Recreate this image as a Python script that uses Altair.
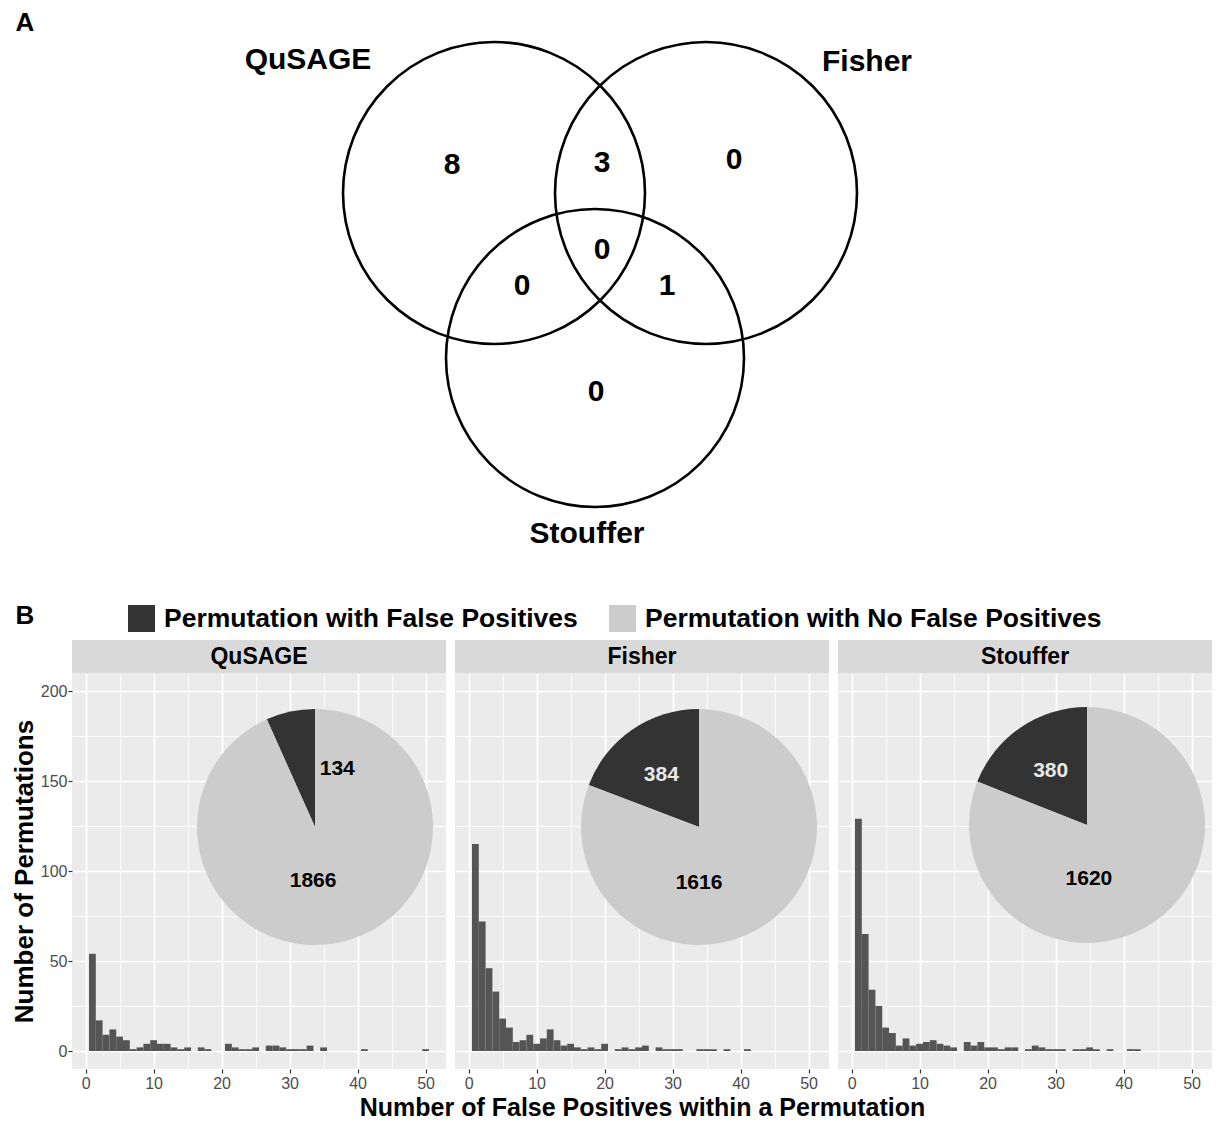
import math
import altair as alt
import pandas as pd

# ---------------- data ----------------
methods = ["QuSAGE", "Fisher", "Stouffer"]
fp_values = list(range(1, 51))
qusage_counts = [54, 17, 9, 12, 8, 6, 1, 2, 4, 6,
                 4, 4, 2, 1, 2, 0, 2, 1, 0, 0,
                 4, 2, 1, 1, 2, 0, 3, 3, 2, 1,
                 1, 1, 3, 0, 2, 0, 0, 0, 0, 0,
                 1, 0, 0, 0, 0, 0, 0, 0, 0, 1]
fisher_counts = [115, 72, 46, 33, 18, 13, 5, 6, 9, 4,
                 7, 12, 6, 3, 4, 2, 1, 2, 1, 4,
                 0, 1, 2, 1, 2, 3, 0, 2, 1, 1,
                 1, 0, 0, 1, 1, 1, 0, 1, 0, 0,
                 1, 0, 0, 0, 0, 0, 0, 0, 0, 0]
stouffer_counts = [129, 65, 34, 25, 13, 10, 3, 7, 3, 4,
                   5, 6, 4, 3, 2, 0, 5, 3, 5, 2,
                   2, 1, 2, 2, 0, 1, 3, 2, 1, 1,
                   1, 0, 1, 1, 2, 1, 0, 1, 0, 0,
                   1, 1, 0, 0, 0, 0, 0, 0, 0, 0]
perm_with_fp = [134, 384, 380]
perm_without_fp = [1866, 1616, 1620]
pie_categories = ["Permutation with False Positives", "Permutation with No False Positives"]

venn_sets = ["QuSAGE", "Fisher", "Stouffer"]
venn_regions = ["QuSAGE only", "QuSAGE & Fisher", "Fisher only", "All three",
                "QuSAGE & Stouffer", "Fisher & Stouffer", "Stouffer only"]
venn_counts = [8, 3, 0, 0, 0, 1, 0]

x_title = "Number of False Positives within a Permutation"
y_title = "Number of Permutations"

# ---------------- layout / style ----------------
FONT = "Liberation Sans"
PANEL_W, PANEL_H, PANEL_GAP, STRIP_H = 374, 396, 9, 33
X_DOMAIN, Y_DOMAIN = [-2, 53], [-10, 210]
BAR = "#555555"
DARK, LIGHT = "#333333", "#cccccc"
PANEL_BG, STRIP_BG = "#ebebeb", "#d9d9d9"
VENN_W, VENN_H = 1134, 593
OX, OY = 72, 10  # page position of the venn view origin
PAD_LEFT, PAD_TOP = 3, 2

circle_geom = {"QuSAGE": (494, 193, 151), "Fisher": (706, 193, 151), "Stouffer": (595, 358, 149)}
set_label_pos = {"QuSAGE": (308, 60), "Fisher": (867, 62), "Stouffer": (587, 534)}
region_pos = {"QuSAGE only": (452, 165), "QuSAGE & Fisher": (602, 163), "Fisher only": (734, 160),
              "All three": (602, 250), "QuSAGE & Stouffer": (522, 286),
              "Fisher & Stouffer": (667, 286), "Stouffer only": (596, 392)}

pie_center = [(243, 154), (244, 154), (249, 152)]
PIE_R = 118
label_angle = [(21, 182), (324, 180), (326, 178)]   # degrees (with FP, without FP)
label_radius = [(62, 54), (64, 56), (65, 54)]
label_color = [("black", "black"), ("#e8e8e8", "black"), ("#e8e8e8", "black")]

# ---------------- panel A: Venn ----------------
circ_df = pd.DataFrame({
    "set": venn_sets,
    "px": [circle_geom[s][0] - OX for s in venn_sets],
    "py": [circle_geom[s][1] - OY for s in venn_sets],
    "box": [(2 * circle_geom[s][2]) ** 2 for s in venn_sets],
})
setlab_df = pd.DataFrame({
    "set": venn_sets,
    "px": [set_label_pos[s][0] - OX for s in venn_sets],
    "py": [set_label_pos[s][1] - OY for s in venn_sets],
})
region_df = pd.DataFrame({
    "region": venn_regions,
    "count": venn_counts,
    "px": [region_pos[r][0] - OX for r in venn_regions],
    "py": [region_pos[r][1] - OY for r in venn_regions],
})

circles = alt.Chart(circ_df).mark_point(shape="circle", filled=False, color="black",
                                        strokeWidth=2.6, opacity=1).encode(
    x=alt.X("px:Q", scale=None, axis=None),
    y=alt.Y("py:Q", scale=None, axis=None),
    size=alt.Size("box:Q", scale=None),
)
set_labels = alt.Chart(setlab_df).mark_text(fontSize=30, fontWeight="bold", font=FONT,
                                            color="black", baseline="middle").encode(
    x=alt.X("px:Q", scale=None), y=alt.Y("py:Q", scale=None), text="set:N")
region_labels = alt.Chart(region_df).mark_text(fontSize=30, fontWeight="bold", font=FONT,
                                               color="black", baseline="middle").encode(
    x=alt.X("px:Q", scale=None), y=alt.Y("py:Q", scale=None), text="count:Q")
tag_a = alt.Chart(pd.DataFrame({"t": ["A"]})).mark_text(
    fontSize=26, fontWeight="bold", font=FONT, color="black", baseline="middle").encode(
    text="t:N", x=alt.value(25 - OX), y=alt.value(23 - OY))

venn = alt.layer(circles, set_labels, region_labels, tag_a).properties(width=VENN_W, height=VENN_H)

# ---------------- panel B: histograms with pies ----------------
major10 = "datum.value % 10 === 0"
major50 = "datum.value % 50 === 0"
all_counts = [qusage_counts, fisher_counts, stouffer_counts]


def make_panel(i):
    name = methods[i]
    hist = pd.DataFrame({"fp": fp_values, "count": all_counts[i]})
    hist = hist[hist["count"] > 0].copy()
    hist["lo"] = hist["fp"] - 0.5
    hist["hi"] = hist["fp"] + 0.5

    x_axis = alt.Axis(
        values=list(range(0, 51, 5)), labelExpr=f"{major10} ? datum.label : ''",
        grid=True, gridColor="white",
        gridWidth={"condition": {"test": major10, "value": 1.7}, "value": 0.8},
        tickOpacity={"condition": {"test": major10, "value": 1}, "value": 0},
        tickColor="#333333", tickSize=4, tickWidth=1.2, domain=False,
        labelFont=FONT, labelFontSize=16, labelColor="#4d4d4d", labelPadding=2,
        title=x_title if i == 1 else None,
        titleFont=FONT, titleFontSize=25, titleFontWeight="bold", titleColor="black",
        titlePadding=4,
    )
    if i == 0:
        y_axis = alt.Axis(
            values=list(range(0, 201, 25)), labelExpr=f"{major50} ? datum.label : ''",
            grid=True, gridColor="white",
            gridWidth={"condition": {"test": major50, "value": 1.7}, "value": 0.8},
            tickOpacity={"condition": {"test": major50, "value": 1}, "value": 0},
            tickColor="#333333", tickSize=4, tickWidth=1.2, domain=False,
            labelFont=FONT, labelFontSize=16, labelColor="#4d4d4d", labelPadding=1,
            title=y_title, titleFont=FONT, titleFontSize=26, titleFontWeight="bold",
            titleColor="black", titlePadding=3,
        )
    else:
        y_axis = alt.Axis(
            values=list(range(0, 201, 25)), labels=False, ticks=False, domain=False,
            grid=True, gridColor="white",
            gridWidth={"condition": {"test": major50, "value": 1.7}, "value": 0.8},
            title=None,
        )

    bars = alt.Chart(hist).mark_rect(color=BAR).encode(
        x=alt.X("lo:Q", scale=alt.Scale(domain=X_DOMAIN, nice=False, zero=False), axis=x_axis),
        x2="hi:Q",
        y=alt.Y("count:Q", scale=alt.Scale(domain=Y_DOMAIN, nice=False, zero=False), axis=y_axis),
        y2=alt.datum(0),
    )

    cx, cy = pie_center[i]
    pie_df = pd.DataFrame({"status": pie_categories,
                           "n": [perm_with_fp[i], perm_without_fp[i]],
                           "ord": [1, 0]})
    if i == 0:
        legend = alt.Legend(title=None, orient="none", legendX=56, legendY=-68,
                            direction="horizontal", symbolType="square", symbolSize=729,
                            symbolStrokeWidth=0, labelFont=FONT, labelFontSize=26.5,
                            labelFontWeight="bold", labelColor="black", labelLimit=700,
                            columnPadding=31, labelOffset=9)
    else:
        legend = None
    pie = alt.Chart(pie_df).mark_arc(outerRadius=PIE_R).encode(
        theta=alt.Theta("n:Q", stack=True),
        order=alt.Order("ord:Q"),
        color=alt.Color("status:N", scale=alt.Scale(domain=pie_categories, range=[DARK, LIGHT]),
                        legend=legend),
        x=alt.value(cx), y=alt.value(cy),
    )

    lab_df = pd.DataFrame({
        "txt": [str(perm_with_fp[i]), str(perm_without_fp[i])],
        "ang": list(label_angle[i]),
        "r": list(label_radius[i]),
        "col": list(label_color[i]),
    })
    pie_labels = alt.Chart(lab_df).mark_text(fontSize=21, fontWeight="bold", font=FONT,
                                             baseline="middle").encode(
        theta=alt.Theta("ang:Q", scale=alt.Scale(domain=[0, 360], range=[0, 2 * math.pi])),
        radius=alt.Radius("r:Q", scale=None),
        text="txt:N",
        color=alt.Color("col:N", scale=None),
        x=alt.value(cx), y=alt.value(cy),
    )

    strip_df = pd.DataFrame({"method": [name]})
    strip = alt.Chart(strip_df).mark_rect(color=STRIP_BG).encode(
        x=alt.value(0), x2=alt.value(PANEL_W), y=alt.value(-STRIP_H), y2=alt.value(0))
    strip_txt = alt.Chart(strip_df).mark_text(fontSize=23, fontWeight="bold", font=FONT,
                                              color="black", baseline="middle").encode(
        text="method:N", x=alt.value(PANEL_W / 2), y=alt.value(-STRIP_H / 2))

    layers = [bars, pie, pie_labels, strip, strip_txt]
    if i == 0:
        tag_b = alt.Chart(pd.DataFrame({"t": ["B"]})).mark_text(
            fontSize=26, fontWeight="bold", font=FONT, color="black", baseline="middle").encode(
            text="t:N", x=alt.value(25 - OX), y=alt.value(617 - 674))
        layers.append(tag_b)

    return alt.layer(*layers).resolve_scale(theta="independent", color="independent").properties(
        width=PANEL_W, height=PANEL_H,
        view=alt.ViewBackground(fill=PANEL_BG, stroke=None),
    )


panels = alt.hconcat(*[make_panel(i) for i in range(3)], spacing=PANEL_GAP, bounds="flush").resolve_scale(
    color="independent", theta="independent")

chart = alt.vconcat(venn, panels, spacing=0).configure(
    font=FONT, background="white",
    padding={"left": PAD_LEFT, "top": PAD_TOP, "right": 0, "bottom": 0},
).configure_view(stroke=None)

chart.save("out.html", embed_options={"renderer": "svg", "actions": False})
